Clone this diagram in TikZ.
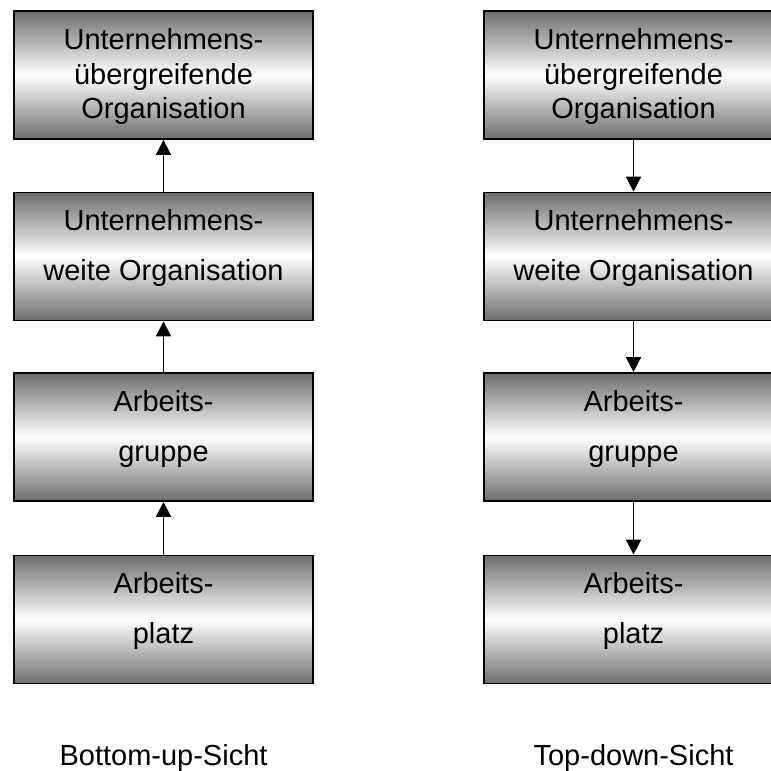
\documentclass[tikz,border=0pt]{standalone}
\usepackage{fontspec}
\setmainfont{Liberation Sans}
\usetikzlibrary{arrows.meta}
\begin{document}
\begin{tikzpicture}[x=1pt,y=-1pt,
  levelbox/.style={draw=black, line width=1.8pt, rectangle,
    minimum width=299pt, minimum height=128pt, inner sep=0pt,
    top color=black!57, bottom color=black!57, middle color=white,
    align=center, font=\fontsize{29}{50}\selectfont, text depth=23pt},
  tallbox/.style={levelbox, font=\fontsize{29}{34.5}\selectfont, text depth=3pt},
  flow/.style={line width=1.8pt, -{Triangle[length=15pt,width=15pt]}},
  caption/.style={font=\fontsize{29}{34}\selectfont, anchor=base}]
  \useasboundingbox (0,0) rectangle (771,771);

  % Bottom-up column
  \node[tallbox]  (lu1) at (163.5,75)  {Unternehmens-\\übergreifende\\Organisation};
  \node[levelbox] (lu2) at (163.5,256.5) {Unternehmens-\\weite Organisation};
  \node[levelbox] (lu3) at (163.5,437) {Arbeits-\\gruppe};
  \node[levelbox] (lu4) at (163.5,619.5) {Arbeits-\\platz};
  \draw[flow] (lu2.north) -- (lu1.south);
  \draw[flow] (lu3.north) -- (lu2.south);
  \draw[flow] (lu4.north) -- (lu3.south);
  \node[caption] (lcap) at (163.5,765) {Bottom-up-Sicht};

  % Top-down column
  \node[tallbox]  (ru1) at (633.5,75)  {Unternehmens-\\übergreifende\\Organisation};
  \node[levelbox] (ru2) at (633.5,256.5) {Unternehmens-\\weite Organisation};
  \node[levelbox] (ru3) at (633.5,437) {Arbeits-\\gruppe};
  \node[levelbox] (ru4) at (633.5,619.5) {Arbeits-\\platz};
  \draw[flow] (ru1.south) -- (ru2.north);
  \draw[flow] (ru2.south) -- (ru3.north);
  \draw[flow] (ru3.south) -- (ru4.north);
  \node[caption] (rcap) at (633.5,765) {Top-down-Sicht};
\end{tikzpicture}
\end{document}
